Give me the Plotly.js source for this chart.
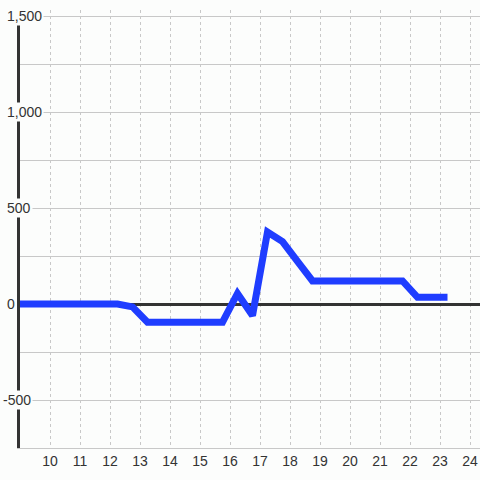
<!DOCTYPE html>
<html>
<head>
<meta charset="utf-8">
<script src="https://cdn.plot.ly/plotly-3.0.1.min.js"></script>
<style>html,body{margin:0;padding:0;background:#fcfdfc;}</style>
</head>
<body>
<div id="chart" style="width:480px;height:480px;"></div>
<script>
// Data
var xValues = [8.75, 9.25, 9.75, 10.25, 10.75, 11.25, 11.75, 12.25, 12.75, 13.25, 13.75, 14.25, 14.75, 15.25, 15.75, 16.25, 16.75, 17.25, 17.75, 18.25, 18.75, 19.25, 19.75, 20.25, 20.75, 21.25, 21.75, 22.25, 22.75, 23.25];
var yValues = [0, 0, 0, 0, 0, 0, 0, 0, -15, -95, -95, -95, -95, -95, -95, 55, -60, 375, 325, 222, 120, 120, 120, 120, 120, 120, 120, 35, 35, 35];
var xTickVals = [10, 11, 12, 13, 14, 15, 16, 17, 18, 19, 20, 21, 22, 23, 24];
var xTickText = ['10', '11', '12', '13', '14', '15', '16', '17', '18', '19', '20', '21', '22', '23', '24'];
var yGridVals = [-750, -500, -250, 0, 250, 500, 750, 1000, 1250, 1500];
var yLabelVals = [-500, 0, 500, 1000, 1500];
var yLabelText = ['-500', '0', '500', '1,000', '1,500'];

var bg = '#fcfdfc';
var gridColor = '#c8c8c8';
var textColor = '#333333';
var fontFamily = '"Liberation Sans", Arial, sans-serif';

var annotations = yLabelVals.map(function (v, i) {
  return {
    xref: 'paper', yref: 'y', x: 0, y: v,
    text: yLabelText[i], showarrow: false,
    xanchor: 'left', yanchor: 'middle',
    xshift: v < 0 ? -19 : -15,
    bgcolor: bg, borderpad: 1,
    font: {family: fontFamily, size: 14, color: textColor}
  };
});

var trace = {
  x: xValues, y: yValues, type: 'scatter', mode: 'lines',
  line: {color: '#1f3dff', width: 7},
  hoverinfo: 'skip'
};

var layout = {
  width: 480, height: 480,
  margin: {l: 20, r: 0, t: 10, b: 32, pad: 0},
  paper_bgcolor: bg, plot_bgcolor: bg,
  showlegend: false,
  font: {family: fontFamily, size: 14, color: textColor},
  xaxis: {
    range: [9, 24.3333],
    tickmode: 'array', tickvals: xTickVals, ticktext: xTickText,
    showgrid: true, gridcolor: gridColor, gridwidth: 1, griddash: '3px,3px',
    zeroline: false, showline: true, linecolor: gridColor, linewidth: 1,
    ticks: '', tickfont: {family: fontFamily, size: 14, color: textColor},
    fixedrange: true
  },
  yaxis: {
    range: [-750, 1531.25],
    tickmode: 'array', tickvals: yGridVals,
    showticklabels: false, ticks: '',
    showgrid: true, gridcolor: gridColor, gridwidth: 1,
    zeroline: true, zerolinecolor: '#333333', zerolinewidth: 3,
    showline: true, linecolor: '#333333', linewidth: 3,
    fixedrange: true
  },
  annotations: annotations
};

Plotly.newPlot('chart', [trace], layout, {staticPlot: true, displayModeBar: false});
</script>
</body>
</html>
